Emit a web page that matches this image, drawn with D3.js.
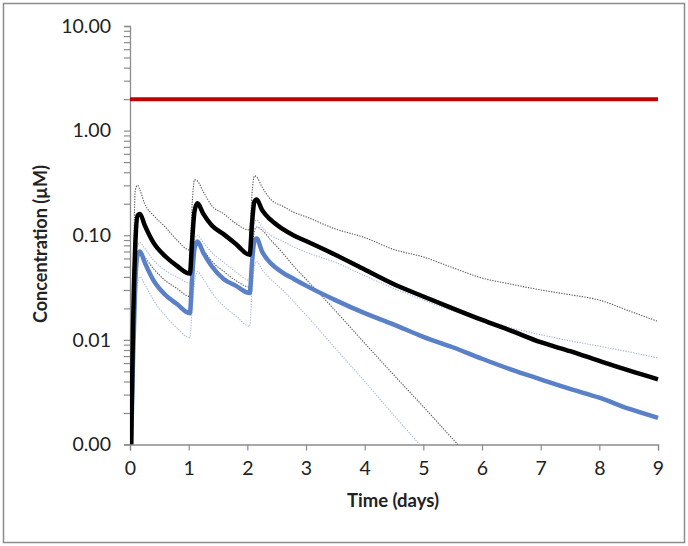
<!DOCTYPE html>
<html><head><meta charset="utf-8">
<script src="https://cdn.jsdelivr.net/npm/d3@7"></script>
<style>body{margin:0;background:#fff}svg{display:block}</style>
</head><body>
<svg id="chart" width="688" height="546"></svg>
<script>
// Time points (days)
const time = [0.02,0.05,0.09,0.13,0.17,0.25,0.4,0.6,0.8,
  1.02,1.06,1.10,1.15,1.25,1.4,1.6,1.8,
  2.04,2.08,2.12,2.16,2.25,2.4,2.6,2.8,3.0,3.5,4.0,4.5,5.0,5.5,6.0,6.5,7.0,7.5,8.0,8.5,9.0];
// Black thick (median, regimen A)
const blackMedian = [0.001,0.012,0.08,0.155,0.16,0.125,0.085,0.063,0.051,
  0.043,0.09,0.17,0.202,0.16,0.123,0.102,0.083,
  0.065,0.13,0.21,0.22,0.175,0.14,0.115,0.099,0.088,0.065,0.047,0.034,0.026,0.020,0.0155,0.0122,0.0095,0.0078,0.0063,0.0051,0.0042];
// Black dotted upper
const blackUpper = [0.001,0.02,0.27,0.3,0.27,0.2,0.155,0.12,0.09,
  0.072,0.2,0.34,0.33,0.26,0.19,0.16,0.13,
  0.112,0.25,0.37,0.36,0.29,0.22,0.19,0.165,0.15,0.115,0.095,0.073,0.062,0.049,0.039,0.034,0.030,0.027,0.024,0.019,0.015];
// Black dotted lower
const blackLower = [0.001,0.005,0.03,0.06,0.07,0.062,0.048,0.037,0.031,
  0.026,0.045,0.075,0.085,0.072,0.056,0.045,0.037,
  0.032,0.065,0.11,0.12,0.112,0.09,0.068,0.05,0.038,0.019,0.0093,0.0046,0.0023,0.00113,0.00056,0.00028,0.00014,0.00007,0.000035,0.000018,0.000009];
// Blue thick (median, regimen B)
const blueMedian = [0.001,0.006,0.035,0.065,0.07,0.055,0.037,0.027,0.022,
  0.018,0.04,0.075,0.087,0.068,0.05,0.038,0.033,
  0.028,0.055,0.088,0.093,0.07,0.054,0.044,0.038,0.033,0.024,0.018,0.014,0.0107,0.0085,0.0066,0.0052,0.0042,0.0034,0.0028,0.0022,0.0018];
// Blue dotted upper
const blueUpper = [0.001,0.008,0.05,0.08,0.085,0.075,0.058,0.046,0.04,
  0.035,0.06,0.09,0.1,0.085,0.068,0.055,0.045,
  0.037,0.08,0.13,0.14,0.12,0.1,0.088,0.077,0.069,0.055,0.041,0.031,0.024,0.019,0.0155,0.013,0.0112,0.0098,0.0087,0.0077,0.0067];
// Blue dotted lower
const blueLower = [0.001,0.003,0.015,0.035,0.04,0.034,0.024,0.017,0.013,
  0.0105,0.02,0.035,0.045,0.038,0.028,0.021,0.017,
  0.0135,0.03,0.05,0.056,0.047,0.038,0.030,0.0229,0.0173,0.0083,0.004,0.0019,0.00091,0.00044,0.00021,0.0001,0.00005,0.000025,0.000012,0.000006,0.000003];
// Threshold (red)
const thresholdTime = [0, 9];
const thresholdValue = [2.0, 2.0];

const xTicks = [0,1,2,3,4,5,6,7,8,9];
const yMajor = [0.001,0.01,0.1,1,10];

const svg = d3.select("#chart");
const mLeft = 130, mRight = 658, mTop = 26, mBottom = 444.5;
const FONT = "Lato, 'Open Sans', sans-serif";

svg.append("rect").attr("x",3.5).attr("y",3.5).attr("width",681).attr("height",539)
  .attr("fill","#fff").attr("stroke","#8c8c8c").attr("stroke-width",1.5);

const x = d3.scaleLinear().domain([0,9]).range([mLeft,mRight]);
const y = d3.scaleLog().domain([0.001,10]).range([mBottom,mTop]);

svg.append("defs").append("clipPath").attr("id","clip")
  .append("rect").attr("x",mLeft).attr("y",mTop-5).attr("width",mRight-mLeft+3).attr("height",mBottom-mTop+5);

const isMajor = v => yMajor.some(m => Math.abs(m - v)/m < 1e-6);
const yAxis = d3.axisLeft(y).tickValues(y.ticks()).tickSize(6).tickPadding(13)
  .tickFormat(v => isMajor(v) ? d3.format(".2f")(v) : "");
const gy = svg.append("g").attr("transform",`translate(${mLeft},0)`).call(yAxis);
gy.select(".domain").attr("stroke","#8c8c8c").attr("stroke-width",1.3);
gy.selectAll(".tick line").attr("stroke","#8c8c8c").attr("stroke-width",1.2);
gy.selectAll(".tick text").attr("font-family",FONT).attr("font-size",19.5).attr("fill","#222");

const xAxis = d3.axisBottom(x).tickValues(xTicks).tickSize(6).tickPadding(11).tickFormat(d3.format("d"));
const gx = svg.append("g").attr("transform",`translate(0,${mBottom})`).call(xAxis);
gx.select(".domain").attr("stroke","#8c8c8c").attr("stroke-width",1.3);
gx.selectAll(".tick line").attr("stroke","#8c8c8c").attr("stroke-width",1.2);
gx.selectAll(".tick text").attr("font-family",FONT).attr("font-size",19.5).attr("fill","#222");

const plot = svg.append("g").attr("clip-path","url(#clip)");
const line = d3.line().x(d => x(d[0])).y(d => y(d[1])).curve(d3.curveMonotoneX);
const pts = vals => time.map((t,i) => [t, vals[i]]);

function draw(vals, color, width, dash){
  const p = plot.append("path").datum(pts(vals)).attr("d",line)
    .attr("fill","none").attr("stroke",color).attr("stroke-width",width)
    .attr("stroke-linejoin","round");
  if (dash) p.attr("stroke-dasharray",dash);
}
draw(blueLower, "#a7b9dc", 1.1, "1.3,1.3");
draw(blueUpper, "#a7b9dc", 1.1, "1.3,1.3");
draw(blackLower, "#555", 1.1, "1.3,1.3");
draw(blackUpper, "#555", 1.1, "1.3,1.3");
draw(blueMedian, "#5a80c8", 4.5, null);
draw(blackMedian, "#000", 4.5, null);

plot.append("path").datum(thresholdTime.map((t,i)=>[t,thresholdValue[i]]))
  .attr("d", d3.line().x(d=>x(d[0])).y(d=>y(d[1])))
  .attr("stroke","#c00000").attr("stroke-width",4).attr("fill","none");

svg.append("text").attr("x",393).attr("y",507).attr("text-anchor","middle")
  .attr("font-family",FONT).attr("font-weight","bold").attr("font-size",18.5)
  .attr("fill","#222").text("Time (days)");
svg.append("text").attr("transform","translate(47,244) rotate(-90)").attr("text-anchor","middle")
  .attr("font-family",FONT).attr("font-weight","bold").attr("font-size",18)
  .attr("fill","#222").text("Concentration (µM)");
</script>
</body></html>
